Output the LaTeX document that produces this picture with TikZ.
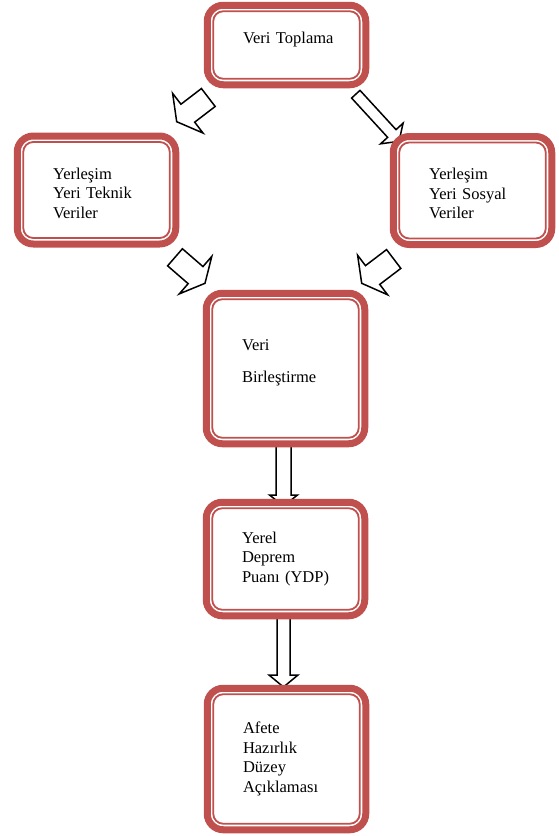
\documentclass[tikz,border=0pt]{standalone}
\usepackage{fontspec}
\setmainfont{Liberation Serif}
\usepackage{tikz}
\usetikzlibrary{calc, backgrounds}
\definecolor{Kirmizi}{RGB}{192, 80, 77}

\begin{document}
\begin{tikzpicture}[x=1pt, y=-1pt,
        block/.style={rectangle, draw=Kirmizi, fill=white, line width=7pt, rounded corners=16pt, minimum width=158.5pt, text width=87pt, inner xsep=35.75pt, align=left, font=\fontsize{16.5pt}{19.5pt}\selectfont},
        inner/.style={draw=Kirmizi, line width=1.8pt, rounded corners=10pt},
        arrow/.style={draw=black, fill=white, line width=1.5pt}
    ]
        \useasboundingbox (0,0) rectangle (558,836);

        % ================= KUTULAR =================
        \node[block, minimum height=79.5pt, text depth=15pt] (toplama) at (286.5, 45) {Veri~Toplama};

        \node[block, minimum height=108pt, text height=18pt] (teknik) at (96.5, 190) {Yerleşim\\Yeri~Teknik\\Veriler};
        \node[block, minimum height=108pt, text height=18pt] (sosyal) at (472.5, 190.5) {Yerleşim\\Yeri~Sosyal\\Veriler};

        \node[block, minimum height=150.5pt, text depth=46pt] (birlestirme) at (285.5, 368.5) {Veri\\[12.5pt]Birleştirme};
        \node[block, minimum height=113.5pt] (ydp) at (285.5, 559) {Yerel\\Deprem\\Puanı~(YDP)};
        \node[block, minimum height=141.5pt] (afet) at (286.5, 759) {Afete\\Hazırlık\\Düzey\\Açıklaması};

        % iç çizgiler
        \foreach \k in {toplama, teknik, sosyal, birlestirme, ydp, afet}
            \draw[inner] ([shift={(9.5pt,-9.5pt)}]\k.north west) rectangle ([shift={(-9.5pt,9.5pt)}]\k.south east);

        % ================= OKLAR =================
        \coordinate (ok1a) at (208.3, 97.5);   \coordinate (ok1b) at (176.7, 121.7);
        \coordinate (ok2a) at (355.8, 94.2);   \coordinate (ok2b) at (399, 141.3);
        \coordinate (ok3a) at (175, 257.3);    \coordinate (ok3b) at (205, 283.3);
        \coordinate (ok4a) at (393.7, 259);    \coordinate (ok4b) at (361.7, 283.3);
        \coordinate (ok5a) at (283.5, 440);    \coordinate (ok5b) at (283.5, 506);
        \coordinate (ok6a) at (283.5, 615);    \coordinate (ok6b) at (283.5, 687);

        \begin{pgfonlayer}{background}
            \foreach \a/\b/\s/\h/\l in {ok1a/ok1b/11.3pt/25pt/14pt, ok2a/ok2b/5.7pt/15.3pt/10.6pt, ok3a/ok3b/11.3pt/24.8pt/12.5pt, ok4a/ok4b/11.8pt/24.8pt/13.7pt, ok5a/ok5b/7.5pt/14pt/11pt, ok6a/ok6b/6.5pt/14.5pt/12pt}{
                \coordinate (hb) at ($(\b)!\l!(\a)$);
                \draw[arrow] ($(\a)!\s!90:(\b)$) -- ($(hb)!\s!90:(\b)$) -- ($(hb)!\h!90:(\b)$) -- (\b)
                    -- ($(hb)!\h!-90:(\b)$) -- ($(hb)!\s!-90:(\b)$) -- ($(\a)!\s!-90:(\b)$) -- cycle;
            }
        \end{pgfonlayer}
    \end{tikzpicture}
\end{document}
